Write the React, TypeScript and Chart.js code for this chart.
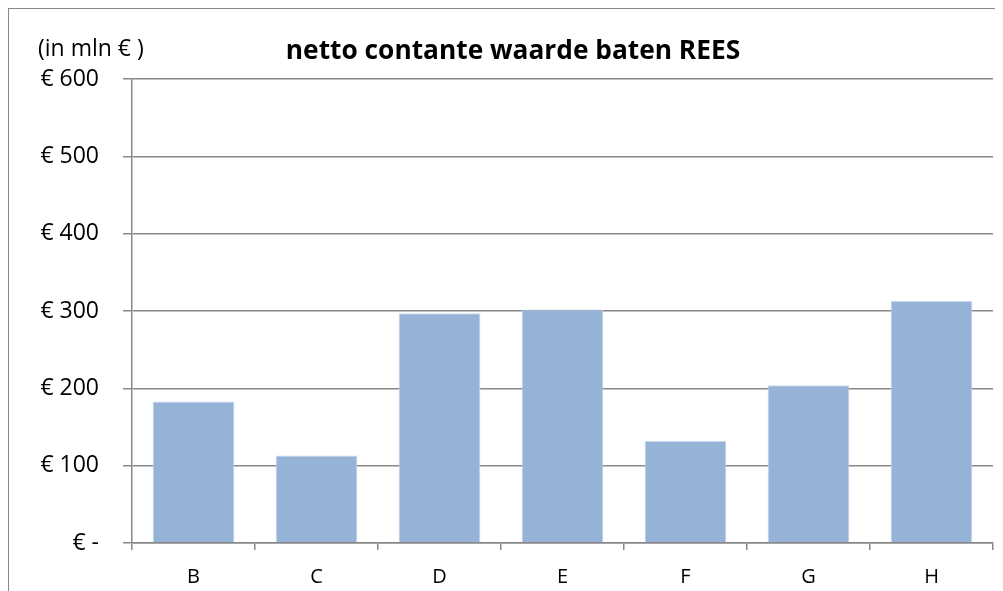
import React, { useEffect, useRef } from "react";
import { Chart, registerables } from "chart.js";

Chart.register(...registerables);

const categories = ["B", "C", "D", "E", "F", "G", "H"];
const values = [183, 113, 297, 302, 132, 204, 313];
const yTickValues = [0, 100, 200, 300, 400, 500, 600];
const titleText = "netto contante waarde baten REES";
const unitText = "(in mln € )";

const FONT = "'Open Sans', 'DejaVu Sans', sans-serif";

const textPlugin = {
  id: "customTexts",
  afterDraw(chart: any) {
    const ctx = chart.ctx;
    ctx.save();
    ctx.fillStyle = "#000";
    ctx.textBaseline = "alphabetic";
    ctx.font = `23px ${FONT}`;
    ctx.textAlign = "left";
    ctx.fillText(unitText, 29, 47);
    ctx.font = `bold 26.3px ${FONT}`;
    ctx.textAlign = "center";
    ctx.fillText(titleText, 504, 50);
    ctx.restore();
  },
};

export default function App() {
  const ref = useRef<HTMLCanvasElement | null>(null);
  useEffect(() => {
    if (!ref.current) return;
    const chart = new Chart(ref.current, {
      type: "bar",
      data: {
        labels: categories,
        datasets: [
          {
            data: values,
            backgroundColor: "#95b3d7",
            borderColor: "#c9d8ec",
            borderWidth: 1,
            barPercentage: 0.665,
            categoryPercentage: 1,
          },
        ],
      },
      options: {
        responsive: false,
        animation: false,
        layout: { padding: { top: 70, right: 9, left: 0, bottom: 0 } },
        plugins: {
          legend: { display: false },
          title: { display: false },
          tooltip: { enabled: false },
        },
        scales: {
          x: {
            afterFit(scale: any) {
              scale.height = 48;
            },
            grid: {
              offset: true,
              drawOnChartArea: false,
              drawTicks: true,
              tickLength: 7,
              color: "#888",
              lineWidth: 1.5,
            },
            border: { display: true, color: "#888", width: 1.5 },
            ticks: {
              color: "#000",
              font: { family: FONT, size: 20 },
              padding: 15,
              maxRotation: 0,
            },
          },
          y: {
            min: 0,
            max: 600,
            afterFit(scale: any) {
              scale.width = 123;
            },
            afterBuildTicks(scale: any) {
              scale.ticks = yTickValues.map((v) => ({ value: v }));
            },
            grid: {
              color: "#888",
              lineWidth: 1.5,
              drawTicks: true,
              tickLength: 9,
            },
            border: { display: true, color: "#888", width: 1.5 },
            ticks: {
              color: "#000",
              font: { family: FONT, size: 23 },
              padding: 24,
              callback: (v: any) => (Number(v) === 0 ? "€ -" : "€ " + v),
            },
          },
        },
      },
      plugins: [textPlugin],
    });
    return () => chart.destroy();
  }, []);

  return (
    <div
      style={{
        width: 995,
        height: 583,
        boxSizing: "border-box",
        borderTop: "1.5px solid #888",
        borderLeft: "1.5px solid #888",
        overflow: "hidden",
      }}
    >
      <canvas ref={ref} width={993} height={582} style={{ display: "block" }} />
    </div>
  );
}
